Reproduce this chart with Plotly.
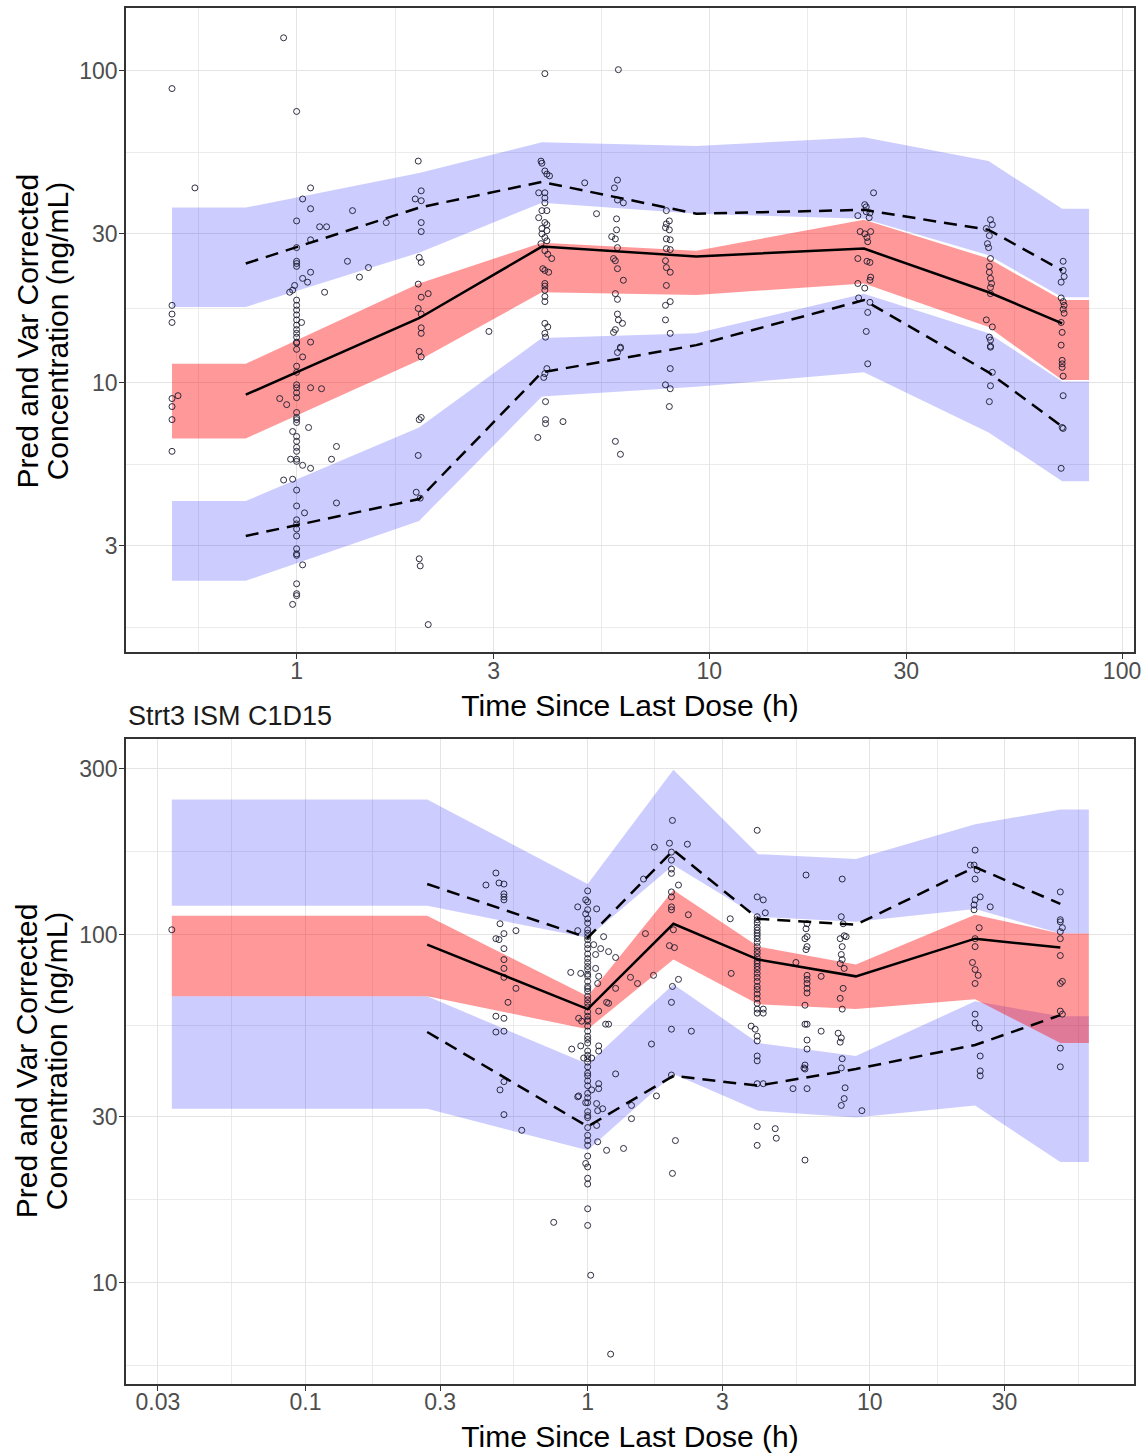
import plotly.graph_objects as go

# ===================== TOP PANEL DATA =====================
top_band_t = [0.499, 0.753, 1.98, 3.93, 9.3, 23.7, 47.5, 71.6, 83.2]
top_p95_hi = [36.4, 36.4, 47.0, 59.0, 57.3, 61.2, 51.3, 36.1, 36.1]
top_p95_lo = [17.5, 17.5, 26.1, 37.7, 34.8, 33.5, 25.6, 18.8, 18.8]
top_p50_hi = [11.5, 11.5, 20.8, 28.1, 26.5, 33.3, 25.0, 18.4, 18.4]
top_p50_lo = [6.63, 6.63, 11.8, 19.5, 19.1, 20.8, 15.1, 10.2, 10.2]
top_p05_hi = [4.18, 4.18, 7.19, 13.9, 14.4, 19.3, 14.4, 10.1, 10.1]
top_p05_lo = [2.32, 2.32, 3.61, 9.03, 9.71, 10.8, 6.93, 4.84, 4.84]

top_bin_t = [0.753, 1.98, 3.93, 9.3, 23.7, 47.5, 71.6]
top_obs_p50 = [9.16, 16.1, 27.3, 25.4, 26.9, 19.5, 15.5]
top_obs_p95 = [24.1, 36.4, 44.0, 34.8, 35.8, 30.9, 22.9]
top_obs_p05 = [3.23, 4.24, 10.8, 13.2, 18.4, 10.8, 7.24]

top_obs_05h = [(0.499, 87.6), (0.499, 17.7), (0.499, 16.6), (0.499, 15.6), (0.516, 9.09),
               (0.499, 8.90), (0.499, 8.39), (0.499, 7.62), (0.499, 6.03), (0.567, 42.1)]
top_obs_1h = [(0.930, 127.4), (1.0, 74.0), (1.081, 42.1), (1.034, 38.8), (1.081, 36.1), (1.0, 33.0),
              (1.366, 35.6), (1.137, 31.6), (1.182, 31.6), (1.081, 28.7), (1.649, 32.6), (1.0, 27.1),
              (1.0, 24.5), (1.0, 24.1), (1.0, 23.6), (1.328, 24.5), (1.493, 23.4), (1.420, 21.8),
              (1.081, 22.6), (1.034, 21.6), (1.063, 21.0), (0.989, 20.5), (0.978, 19.8), (0.962, 19.5),
              (1.169, 19.5), (1.0, 18.4), (1.0, 17.7), (1.0, 17.1), (1.0, 16.5), (1.0, 15.9),
              (1.028, 15.6), (1.0, 15.3), (1.0, 14.8), (1.0, 14.4), (1.0, 14.0), (1.0, 13.5),
              (1.081, 13.5), (1.0, 13.4), (1.0, 12.8), (1.034, 12.1), (1.0, 11.3), (1.0, 10.8),
              (0.910, 8.90), (0.946, 8.51), (1.0, 9.85), (1.0, 9.64), (1.0, 9.29), (1.0, 8.96),
              (1.081, 9.64), (1.149, 9.57), (1.0, 8.03), (1.0, 7.74), (1.0, 7.62), (1.0, 7.46),
              (1.069, 7.19), (0.978, 6.98), (1.0, 6.73), (1.0, 6.49), (1.0, 6.21), (1.0, 6.03),
              (0.967, 5.69), (1.0, 5.69), (1.034, 5.44), (1.081, 5.32), (1.0, 5.60), (1.249, 6.25),
              (1.215, 5.69), (0.930, 4.88), (0.978, 4.91), (1.0, 4.53), (1.0, 4.03), (1.045, 3.83),
              (1.0, 3.64), (1.0, 3.53), (1.0, 3.40), (1.0, 3.23), (1.0, 2.94), (1.0, 2.83),
              (1.0, 2.80), (1.034, 2.61), (1.0, 2.27), (1.0, 2.11), (1.0, 2.08), (0.978, 1.95),
              (1.249, 4.12)]
top_obs_2h = [(1.971, 51.3), (2.004, 41.2), (1.938, 38.8), (2.004, 38.3), (2.004, 32.6), (2.004, 30.5),
              (1.982, 25.2), (2.004, 24.3), (1.971, 20.7), (2.004, 18.8), (2.084, 19.3), (1.971, 17.3),
              (2.004, 16.6), (2.004, 15.0), (2.004, 14.4), (2.924, 14.6), (1.982, 12.6), (2.004, 12.1),
              (1.982, 7.62), (2.004, 7.74), (1.971, 5.85), (1.949, 4.46), (1.993, 4.27), (1.982, 2.73),
              (1.993, 2.59), (2.084, 1.68)]
top_obs_4h = [(3.995, 97.8), (3.91, 51.3), (3.93, 50.5), (3.995, 47.7), (4.04, 46.6), (4.10, 46.0),
              (3.86, 40.6), (3.995, 40.6), (3.995, 39.1), (3.995, 37.7), (3.93, 35.6), (4.04, 35.6),
              (3.86, 33.8), (3.995, 32.6), (4.04, 32.1), (3.93, 31.2), (4.04, 30.7), (3.93, 30.0),
              (3.995, 29.2), (4.04, 28.5), (3.91, 27.9), (3.995, 26.5), (4.06, 25.8), (4.15, 25.0),
              (3.95, 23.2), (3.995, 22.9), (4.08, 22.6), (3.995, 20.8), (3.995, 20.4), (3.995, 19.8),
              (3.995, 18.9), (3.995, 18.2), (3.995, 15.5), (4.06, 15.1), (3.995, 14.4), (4.01, 14.0),
              (4.99, 43.7), (5.33, 34.8), (4.04, 11.1), (3.995, 10.7), (3.97, 10.4), (4.01, 8.70),
              (4.01, 7.62), (4.01, 7.40), (4.42, 7.51), (3.84, 6.68)]
top_obs_6h = [(6.02, 100.7), (5.99, 44.6), (5.89, 42.1), (5.99, 38.5), (6.19, 37.7), (5.96, 33.5),
              (5.96, 30.9), (5.80, 29.4), (5.92, 28.9), (5.99, 27.1), (5.86, 25.0), (5.92, 24.6),
              (5.99, 23.2), (6.19, 21.3), (5.92, 19.3), (5.99, 18.5), (5.99, 16.6), (6.02, 15.9),
              (6.16, 15.5), (5.92, 14.8), (5.86, 14.5), (6.09, 13.0), (6.09, 12.9), (5.99, 12.5),
              (5.92, 6.49), (6.09, 5.90)]
top_obs_8h = [(7.87, 35.6), (8.00, 33.0), (7.87, 32.3), (7.83, 31.4), (8.00, 30.9), (7.87, 28.9),
              (8.04, 28.7), (7.87, 26.9), (8.04, 26.7), (7.83, 24.6), (7.87, 23.4), (8.04, 22.6),
              (7.87, 20.5), (8.04, 18.2), (7.83, 17.7), (7.83, 15.9), (8.04, 14.4), (8.04, 11.1),
              (7.83, 9.85), (8.04, 9.57), (8.00, 8.39)]
top_obs_24h = [(25.0, 40.6), (23.8, 37.2), (24.0, 36.6), (22.9, 34.3), (24.5, 35.0), (24.0, 35.3),
               (24.4, 33.8), (23.2, 30.5), (23.8, 30.0), (24.6, 30.5), (24.1, 29.2), (24.2, 28.3),
               (22.9, 25.0), (24.1, 24.5), (24.5, 24.3), (24.6, 21.8), (24.5, 21.3), (22.9, 20.8),
               (23.8, 20.1), (23.0, 18.7), (24.5, 18.1), (24.2, 16.8), (24.0, 14.6), (24.2, 11.5)]
top_obs_48h = [(48.0, 33.3), (48.5, 32.1), (46.9, 31.2), (47.7, 29.6), (47.2, 27.9), (47.5, 27.1),
               (48.0, 25.0), (47.7, 23.6), (47.7, 22.6), (48.0, 21.6), (48.3, 20.8), (48.0, 20.2),
               (48.0, 19.3), (46.9, 15.9), (48.5, 15.1), (47.7, 14.0), (48.0, 13.7), (48.0, 13.0),
               (48.0, 13.1), (48.5, 10.8), (48.0, 9.78), (47.7, 8.70)]
top_obs_72h = [(72.0, 24.5), (72.0, 22.9), (72.4, 21.9), (71.2, 21.0), (71.2, 18.7), (72.0, 18.2),
               (72.4, 17.7), (72.0, 17.2), (72.4, 16.7), (71.2, 15.6), (71.6, 14.5), (71.2, 13.2),
               (71.6, 11.8), (71.6, 11.5), (71.6, 11.2), (72.0, 10.5), (72.0, 9.09), (72.0, 7.14),
               (71.6, 7.19), (71.2, 5.32)]

# ===================== BOTTOM PANEL DATA =====================
bot_title = "Strt3 ISM C1D15"
bot_band_t = [0.0336, 0.270, 1.0, 2.013, 4.02, 8.92, 23.6, 47.3, 59.7]
bot_p95_hi = [244.7, 244.7, 139.8, 298.0, 170.4, 164.9, 207.6, 229.0, 229.0]
bot_p95_lo = [121.0, 121.0, 98.0, 158.5, 112.6, 108.9, 118.6, 100.7, 100.7]
bot_p50_hi = [113.3, 113.3, 66.5, 134.5, 92.4, 82.1, 114.1, 100.7, 100.7]
bot_p50_lo = [66.5, 66.5, 53.5, 84.8, 63.1, 61.1, 65.2, 48.8, 48.8]
bot_p05_hi = [66.5, 66.5, 42.5, 72.0, 48.8, 44.8, 64.4, 58.3, 58.3]
bot_p05_lo = [31.6, 31.6, 24.0, 39.8, 31.2, 29.8, 32.3, 22.2, 22.2]

bot_bin_t = [0.270, 1.0, 2.013, 4.02, 8.92, 23.6, 47.3]
bot_obs_p50 = [93.6, 61.1, 107.5, 84.8, 75.9, 97.4, 91.8]
bot_obs_p95 = [139.8, 98.0, 175.0, 111.1, 106.8, 156.4, 122.6]
bot_obs_p05 = [52.5, 28.1, 39.3, 36.8, 41.1, 48.2, 58.7]

bot_obs_early = [(0.0336, 103.3)]
bot_obs_05h = [(0.473, 150.4), (0.436, 138.9), (0.485, 140.8), (0.505, 139.8), (0.505, 131.0),
               (0.505, 128.4), (0.505, 125.9), (0.489, 107.5), (0.505, 100.7), (0.473, 97.4),
               (0.485, 96.8), (0.557, 102.7), (0.505, 91.2), (0.505, 84.8), (0.505, 80.0),
               (0.505, 75.4), (0.557, 70.1), (0.522, 63.9), (0.473, 58.3), (0.505, 57.5),
               (0.473, 52.5), (0.505, 52.8), (0.505, 37.8), (0.489, 35.8), (0.505, 30.4),
               (0.584, 27.4), (0.758, 14.9)]
bot_obs_1h = [(1.0, 133.6), (0.984, 125.9), (1.0, 124.3), (0.922, 120.2), (1.076, 118.6), (0.984, 114.8),
              (1.0, 111.1), (0.922, 102.7), (1.0, 103.3), (1.139, 98.7), (1.0, 98.7), (1.0, 96.8),
              (1.0, 93.6), (1.0, 91.2), (1.050, 93.6), (1.112, 91.2), (1.186, 89.4), (1.256, 86.0),
              (1.067, 87.7), (1.0, 85.4), (1.0, 83.2), (1.0, 81.0), (1.0, 79.4), (0.871, 77.9),
              (0.945, 77.4), (1.067, 80.0), (1.094, 75.9), (1.0, 75.9), (1.0, 73.4), (1.0, 71.0),
              (1.0, 68.7), (1.0, 66.5), (1.0, 63.5), (1.085, 72.4), (1.256, 70.1), (1.167, 63.9),
              (1.186, 63.5), (1.094, 60.3), (0.929, 57.5), (0.952, 56.4), (1.0, 58.3), (1.0, 56.4),
              (1.0, 54.6), (1.0, 52.8), (1.158, 55.3), (1.186, 55.3), (0.878, 46.9), (0.945, 47.9),
              (1.094, 47.9), (1.094, 46.3), (1.0, 48.8), (1.0, 46.3), (1.0, 44.0), (1.0, 41.7),
              (1.0, 39.3), (1.0, 36.8), (0.968, 44.2), (1.033, 44.2), (1.256, 39.8), (0.929, 34.4),
              (1.094, 37.3), (1.094, 36.1), (1.0, 32.9), (1.0, 30.2), (0.922, 34.2), (0.984, 32.9),
              (1.033, 35.8), (1.0, 29.8), (1.0, 27.9), (1.0, 25.6), (1.0, 24.8), (1.0, 23.1),
              (1.076, 32.7), (1.085, 31.2), (1.130, 31.6), (1.076, 28.3), (1.085, 25.4), (0.984, 22.0),
              (1.0, 19.95), (1.0, 19.2), (1.0, 16.3), (1.0, 14.6), (1.025, 10.5), (1.167, 24.0),
              (1.340, 24.3), (1.430, 32.3), (1.430, 29.6), (1.206, 6.23),
              (1.0, 118.0), (1.0, 108.0), (1.0, 101.0), (1.0, 88.0), (1.0, 77.0), (1.0, 70.0),
              (1.0, 65.0), (1.0, 62.0), (1.0, 60.0), (1.0, 57.0), (1.0, 51.0), (1.0, 50.0),
              (1.0, 45.0), (1.0, 43.0), (1.0, 40.0), (1.0, 38.0), (1.0, 35.0), (1.0, 34.0),
              (1.0, 31.0), (1.0, 26.5), (1.0, 21.5)]
bot_obs_2h = [(1.997, 213.0), (1.724, 178.4), (1.949, 183.2), (2.256, 182.0), (1.981, 172.7),
              (1.981, 163.8), (1.981, 154.4), (1.981, 150.0), (2.098, 138.9), (1.981, 132.7),
              (1.981, 128.4), (1.981, 120.2), (1.981, 117.9), (2.274, 114.1), (1.602, 100.7),
              (2.013, 103.3), (1.949, 93.0), (2.030, 91.8), (3.20, 111.1), (1.577, 144.5),
              (1.418, 75.4), (1.502, 72.4), (1.711, 76.4), (2.098, 74.4), (1.997, 71.0),
              (1.981, 63.9), (1.981, 53.5), (2.331, 52.8), (1.683, 48.5), (1.753, 34.4),
              (2.046, 25.6), (1.997, 20.6), (1.981, 39.5)]
bot_obs_4h = [(3.988, 199.5), (3.988, 128.4), (4.19, 125.9), (4.26, 115.6), (3.988, 112.6),
              (3.988, 110.4), (3.988, 108.0), (3.988, 105.0), (3.988, 103.0), (3.988, 101.0),
              (3.988, 99.3), (3.988, 97.4), (3.988, 95.0), (3.988, 92.4), (3.988, 90.0),
              (3.988, 88.2), (3.988, 86.0), (3.988, 84.0), (3.988, 82.6), (3.988, 81.0),
              (3.988, 79.4), (3.988, 77.4), (3.988, 75.4), (3.988, 73.4), (3.988, 71.0),
              (3.988, 69.6), (3.988, 67.5), (3.988, 65.6), (3.988, 63.5), (3.988, 61.1),
              (3.988, 59.5), (4.19, 61.1), (4.19, 59.5), (3.796, 54.6), (3.923, 53.5),
              (3.988, 51.1), (3.988, 49.5), (3.988, 44.8), (3.988, 43.4), (3.226, 77.4),
              (3.988, 37.3), (4.19, 37.3), (3.988, 28.1), (3.988, 24.8), (4.62, 27.7), (4.66, 26.0)]
bot_obs_6h = [(5.94, 148.4), (5.99, 107.5), (5.94, 104.0), (5.99, 98.7), (5.89, 97.4), (5.99, 92.4),
              (5.94, 90.6), (5.47, 83.2), (6.72, 75.9), (5.99, 76.4), (5.99, 74.4), (5.99, 72.4),
              (5.99, 70.1), (5.99, 68.0), (5.89, 62.7), (5.89, 55.3), (5.99, 55.3), (6.72, 52.8),
              (5.99, 49.8), (5.99, 46.9), (5.89, 42.2), (5.89, 41.1), (5.34, 36.1), (5.99, 36.1),
              (5.84, 41.4), (5.89, 22.5)]
bot_obs_8h = [(7.98, 144.5), (7.92, 112.6), (8.04, 107.5), (8.11, 99.3), (8.24, 98.7), (7.85, 97.4),
              (7.98, 92.4), (7.92, 87.7), (7.98, 84.8), (7.85, 82.6), (8.11, 80.0), (8.04, 70.1),
              (7.85, 65.6), (7.98, 61.1), (7.72, 52.1), (7.92, 50.5), (7.85, 49.1), (7.98, 44.0),
              (7.92, 41.4), (8.17, 36.3), (8.11, 33.8), (7.92, 32.3), (9.37, 31.2)]
bot_obs_24h = [(23.6, 175.0), (22.7, 158.5), (23.4, 158.5), (24.0, 153.4), (23.6, 144.5), (24.6, 128.4),
               (23.6, 125.9), (23.4, 121.8), (23.4, 117.9), (26.7, 120.2), (24.4, 104.7), (23.6, 97.4),
               (23.6, 92.4), (23.1, 83.2), (23.6, 79.4), (24.2, 76.4), (23.6, 72.4), (23.6, 59.1),
               (23.6, 55.7), (24.4, 53.9), (24.6, 44.8), (24.6, 40.6), (24.6, 39.3)]
bot_obs_48h = [(47.3, 132.7), (47.3, 110.4), (47.3, 108.9), (48.1, 104.7), (47.3, 102.0), (47.3, 97.4),
               (47.3, 87.1), (48.1, 73.4), (47.3, 72.4), (47.3, 60.3), (48.1, 59.1), (47.3, 47.2),
               (47.3, 41.7)]

# ===================== AXIS TICKS / LABELS =====================
top_x_ticks = [1, 3, 10, 30, 100]
top_x_minor = [0.577, 1.732, 5.477, 17.32, 54.77]
top_y_ticks = [3, 10, 30, 100]
top_y_minor = [1.643, 5.477, 17.32, 54.77]
bot_x_ticks = [0.03, 0.1, 0.3, 1, 3, 10, 30]
bot_x_minor = [0.05477, 0.1732, 0.5477, 1.732, 5.477, 17.32, 54.77]
bot_y_ticks = [10, 30, 100, 300]
bot_y_minor = [5.77, 17.32, 54.77, 173.2]

x_title = "Time Since Last Dose (h)"
y_title_lines = ["Pred and Var Corrected", "Concentration (ng/mL)"]

# ===================== STYLES =====================
BLUE = "rgba(0,0,255,0.2)"
RED = "rgba(255,0,0,0.4)"
FONT = "Liberation Sans, Arial, sans-serif"

fig = go.Figure()


def add_panel(xa, ya, band_t, p95hi, p95lo, p50hi, p50lo, p05hi, p05lo,
              bin_t, op50, op95, op05, obs_groups):
    for hi, lo, col in [(p95hi, p95lo, BLUE), (p05hi, p05lo, BLUE), (p50hi, p50lo, RED)]:
        fig.add_trace(go.Scatter(
            x=list(band_t) + list(band_t)[::-1], y=list(hi) + list(lo)[::-1],
            fill="toself", fillcolor=col, mode="lines", line=dict(width=0),
            hoverinfo="skip", xaxis=xa, yaxis=ya, showlegend=False))
    ox, oy = [], []
    for g in obs_groups:
        for t, c in g:
            ox.append(t)
            oy.append(c)
    fig.add_trace(go.Scatter(
        x=ox, y=oy, mode="markers",
        marker=dict(symbol="circle-open", size=6, color="rgba(25,25,45,0.9)", line=dict(width=1)),
        xaxis=xa, yaxis=ya, showlegend=False))
    for yy, dash in [(op95, "13px,8px"), (op05, "13px,8px"), (op50, "solid")]:
        fig.add_trace(go.Scatter(
            x=bin_t, y=yy, mode="lines", line=dict(color="black", width=2.5, dash=dash),
            xaxis=xa, yaxis=ya, showlegend=False))


add_panel("x", "y", top_band_t, top_p95_hi, top_p95_lo, top_p50_hi, top_p50_lo, top_p05_hi, top_p05_lo,
          top_bin_t, top_obs_p50, top_obs_p95, top_obs_p05,
          [top_obs_05h, top_obs_1h, top_obs_2h, top_obs_4h, top_obs_6h, top_obs_8h,
           top_obs_24h, top_obs_48h, top_obs_72h])
add_panel("x2", "y2", bot_band_t, bot_p95_hi, bot_p95_lo, bot_p50_hi, bot_p50_lo, bot_p05_hi, bot_p05_lo,
          bot_bin_t, bot_obs_p50, bot_obs_p95, bot_obs_p05,
          [bot_obs_early, bot_obs_05h, bot_obs_1h, bot_obs_2h, bot_obs_4h, bot_obs_6h,
           bot_obs_8h, bot_obs_24h, bot_obs_48h])


def fmt(v):
    return "%g" % v


def axis(ticks, minor, rng, is_x, domain=None, anchor=None, title=None):
    d = dict(type="log", range=rng, tickmode="array", tickvals=ticks, ticktext=[fmt(v) for v in ticks],
             ticks="outside", ticklen=5, tickwidth=1.4, tickcolor="#333333",
             tickfont=dict(size=23, color="#4D4D4D", family=FONT),
             ticklabelstandoff=(-8 if is_x else -3),
             showgrid=True, gridcolor="#E4E4E4", gridwidth=1.2,
             minor=dict(tickmode="array", tickvals=minor, showgrid=True, gridcolor="#EBEBEB",
                        gridwidth=0.8, ticks=""),
             showline=True, mirror=True, linecolor="#333333", linewidth=1.5, zeroline=False)
    if domain is not None:
        d["domain"] = domain
    if anchor is not None:
        d["anchor"] = anchor
    if title is not None:
        d["title"] = dict(text=title, font=dict(size=30, color="black", family=FONT), standoff=12)
    return d


# y-axis titles: two lines each, rotated (placed as paper-anchored text beside each panel)
ytitle_annots = []
for yc in (0.7652, 0.2348):
    for xline, txt in zip((-0.0979, -0.0682), y_title_lines):
        ytitle_annots.append(dict(text=txt, xref="paper", yref="paper", x=xline, y=yc,
                                  xanchor="center", yanchor="middle", textangle=-90, showarrow=False,
                                  font=dict(size=30, color="black", family=FONT)))

fig.update_layout(
    width=1147, height=1454,
    margin=dict(l=126, r=10, t=6, b=64),
    paper_bgcolor="white", plot_bgcolor="white",
    font=dict(family=FONT),
    showlegend=False,
    xaxis=axis(top_x_ticks, top_x_minor, [-0.4134, 2.029], True, anchor="y", title=x_title),
    yaxis=axis(top_y_ticks, top_y_minor, [0.1367, 2.2006], False, domain=[0.5318, 1.0], anchor="x"),
    xaxis2=axis(bot_x_ticks, bot_x_minor, [-1.636, 1.936], True, anchor="y2", title=x_title),
    yaxis2=axis(bot_y_ticks, bot_y_minor, [0.7086, 2.563], False, domain=[0.0, 0.4689], anchor="x2"),
    annotations=[dict(text=bot_title, xref="paper", yref="paper", x=0.0, y=0.4855,
                      xanchor="left", yanchor="middle", showarrow=False,
                      font=dict(size=27, color="#1a1a1a", family=FONT))] + ytitle_annots,
)

fig.write_html("out.html")
